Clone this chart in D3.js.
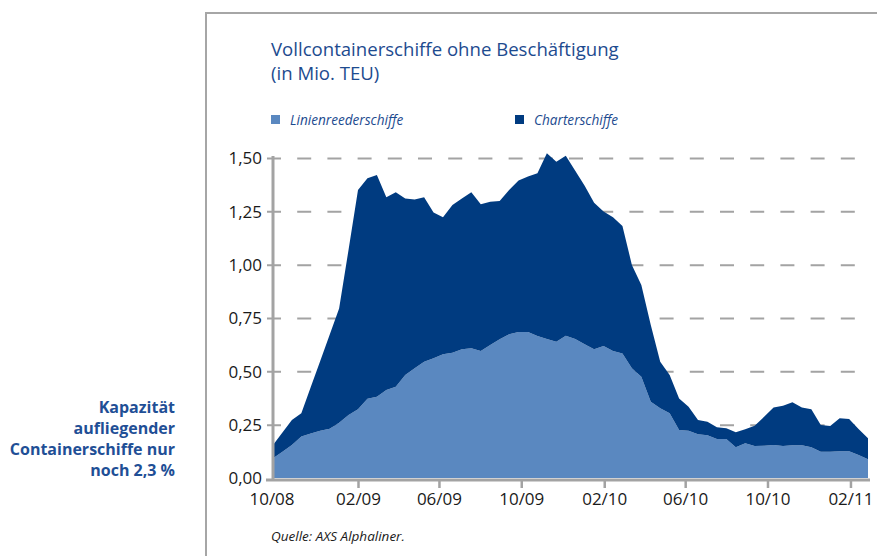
<!DOCTYPE html>
<html>
<head>
<meta charset="utf-8">
<script src="https://cdn.jsdelivr.net/npm/d3@7"></script>
<style>
  body { margin: 0; background: #fff; }
  svg { display: block; font-family: "Open Sans", sans-serif; }
</style>
</head>
<body>
<div id="app"></div>
<script>
// biweekly readings, Mio. TEU
let startDate = new Date(2008, 8, 28)
let linien = [0.092, 0.123, 0.155, 0.194, 0.209, 0.222, 0.231, 0.259, 0.295, 0.322,
  0.372, 0.381, 0.413, 0.428, 0.483, 0.514, 0.545, 0.561, 0.580, 0.587,
  0.603, 0.608, 0.595, 0.624, 0.650, 0.674, 0.684, 0.684, 0.666, 0.652,
  0.639, 0.667, 0.652, 0.627, 0.603, 0.619, 0.595, 0.584, 0.514, 0.475,
  0.358, 0.327, 0.303, 0.225, 0.222, 0.205, 0.200, 0.183, 0.183, 0.144,
  0.163, 0.150, 0.151, 0.155, 0.150, 0.153, 0.153, 0.144, 0.123, 0.123,
  0.125, 0.125, 0.108, 0.088]
let charter = [0.063, 0.090, 0.117, 0.109, 0.217, 0.327, 0.441, 0.536, 0.775, 1.028,
  1.033, 1.039, 0.903, 0.912, 0.827, 0.791, 0.771, 0.683, 0.642, 0.693,
  0.707, 0.731, 0.688, 0.671, 0.649, 0.676, 0.710, 0.729, 0.762, 0.870,
  0.844, 0.843, 0.788, 0.743, 0.687, 0.630, 0.627, 0.597, 0.485, 0.430,
  0.359, 0.218, 0.180, 0.148, 0.112, 0.067, 0.064, 0.055, 0.050, 0.070,
  0.065, 0.095, 0.136, 0.175, 0.189, 0.202, 0.177, 0.178, 0.125, 0.121,
  0.155, 0.152, 0.122, 0.098]
let yTicks = [0, 0.25, 0.5, 0.75, 1.0, 1.25, 1.5]
let xTickLabels = ["10/08", "02/09", "06/09", "10/09", "02/10", "06/10", "10/10", "02/11"]
let seriesNames = ["Linienreederschiffe", "Charterschiffe"]
let colors = ["#5a88c0", "#003b80"]
let sideText = ["Kapazität", "aufliegender", "Containerschiffe nur", "noch 2,3 %"]

let dates = linien.map((d, i) => d3.timeDay.offset(startDate, 14 * i))
let rows = dates.map((d, i) => ({date: d, linien: linien[i], charter: charter[i]}))
let tickDates = xTickLabels.map(s => new Date(2000 + +s.slice(3), +s.slice(0, 2) - 1, 1))

let svg = d3.select("#app").append("svg")
    .attr("width", 877)
    .attr("height", 556)

let textBlue = "#1d4b8f"

// frame
svg.append("path")
    .attr("d", "M206,556 V13 H877")
    .attr("fill", "none")
    .attr("stroke", "#a6a6a6")
    .attr("stroke-width", 2)

// title
svg.append("text").attr("x", 271).attr("y", 56)
    .attr("font-size", 18.6).attr("fill", textBlue)
    .text("Vollcontainerschiffe ohne Beschäftigung")
svg.append("text").attr("x", 271).attr("y", 80)
    .attr("font-size", 18.6).attr("fill", textBlue)
    .text("(in Mio. TEU)")

// legend
let legendX = [271, 515]
seriesNames.forEach((name, i) => {
  svg.append("rect").attr("x", legendX[i]).attr("y", 115)
      .attr("width", 9).attr("height", 9).attr("fill", colors[i])
  svg.append("text").attr("x", legendX[i] + 19).attr("y", 125)
      .attr("font-size", 13.6).attr("font-style", "italic").attr("fill", textBlue)
      .text(name)
})

let x = d3.scaleTime()
    .domain([dates[0], dates[dates.length - 1]])
    .range([273, 868])
let y = d3.scaleLinear()
    .domain([0, 1.5])
    .range([478, 158])

// dashed grid (first dash doubles as tick mark)
svg.append("g")
    .attr("transform", "translate(267,0)")
    .call(d3.axisLeft(y).tickValues(yTicks.slice(1)).tickSize(-589).tickFormat(""))
    .call(g => g.select(".domain").remove())
    .call(g => g.selectAll("line")
        .attr("stroke", "#a3a3a3").attr("stroke-width", 2)
        .attr("stroke-dasharray", "14,16.2"))

// stacked areas
let stack = d3.stack().keys(["linien", "charter"])
let layers = stack(rows)
let area = d3.area()
    .x(d => x(d.data.date))
    .y0(d => y(d[0]))
    .y1(d => y(d[1]))
svg.append("g").selectAll("path")
    .data(layers)
    .enter().append("path")
    .attr("fill", (d, i) => colors[i])
    .attr("d", area)

// y axis
svg.append("line").attr("x1", 273).attr("x2", 273).attr("y1", 156).attr("y2", 481)
    .attr("stroke", "#a3a3a3").attr("stroke-width", 3)
svg.append("g")
    .attr("transform", "translate(262,0)")
    .call(d3.axisLeft(y).tickValues(yTicks).tickSize(0).tickPadding(0)
        .tickFormat(d => d3.format(".2f")(d).replace(".", ",")))
    .call(g => g.select(".domain").remove())
    .call(g => g.selectAll("text")
        .attr("font-family", "Open Sans").attr("font-size", 17).attr("fill", "#1a1a1a")
        .attr("dy", "0.35em"))

// x axis
svg.append("line").attr("x1", 266).attr("x2", 870).attr("y1", 480).attr("y2", 480)
    .attr("stroke", "#a3a3a3").attr("stroke-width", 3)
let xAxis = svg.append("g")
    .attr("transform", "translate(0,481)")
    .call(d3.axisBottom(x).tickValues(tickDates).tickSize(7).tickPadding(5)
        .tickFormat((d, i) => xTickLabels[i]))
    .call(g => g.select(".domain").remove())
    .call(g => g.selectAll("line").attr("stroke", "#a3a3a3").attr("stroke-width", 2.5)
        .filter((d, i) => i === 0).remove())
    .call(g => g.selectAll("text")
        .attr("font-family", "Open Sans").attr("font-size", 17).attr("fill", "#1a1a1a"))
xAxis.selectAll(".tick").filter((d, i) => i === 0)
    .attr("transform", "translate(272,0)")

// source
svg.append("text").attr("x", 271).attr("y", 541)
    .attr("font-size", 13.5).attr("font-style", "italic").attr("fill", "#1a1a1a")
    .text("Quelle: AXS Alphaliner.")

// side note
svg.append("g").selectAll("text")
    .data(sideText)
    .enter().append("text")
    .attr("x", 175)
    .attr("y", (d, i) => 413 + i * 21)
    .attr("text-anchor", "end")
    .attr("font-size", 16)
    .attr("font-weight", "bold")
    .attr("fill", "#1f4f96")
    .text(d => d)
</script>
</body>
</html>
